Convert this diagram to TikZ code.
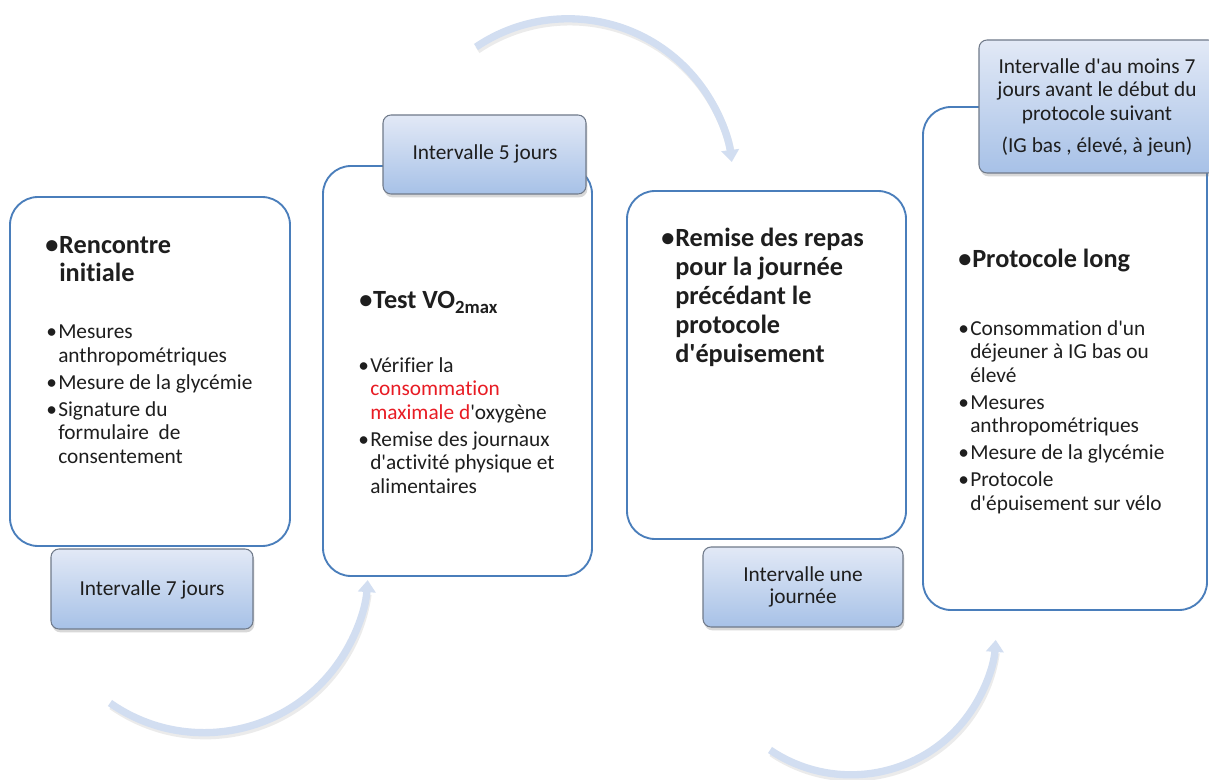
\documentclass[tikz,border=0pt]{standalone}
\usepackage{fontspec}
\newfontfamily\cfont{Carlito}[Ligatures={NoCommon}]
\usetikzlibrary{arrows.meta,shadows,fit}
\definecolor{boxblue}{RGB}{74,126,187}
\definecolor{ivtop}{RGB}{226,233,246}
\definecolor{ivbot}{RGB}{167,193,231}
\definecolor{ivedge}{RGB}{112,122,138}
\definecolor{arcblue}{RGB}{210,222,241}
\definecolor{txt}{RGB}{30,30,30}
\definecolor{hl}{RGB}{232,28,36}
\newcommand{\bl}{\makebox[9pt][l]{•}}
\newcommand{\ind}{\hspace*{9pt}}
\newcommand{\tb}{\makebox[10.5pt][l]{•}}
\newcommand{\tind}{\hspace*{10.5pt}}
\newcommand{\gp}{\\[2.6pt]}
\begin{document}
\begin{tikzpicture}[x=0.75pt,y=-0.75pt,
  stage/.style={draw=boxblue, line width=1.4pt, rounded corners=21pt, fill=white, inner sep=0pt},
  ival/.style={draw=ivedge, line width=0.8pt, rounded corners=6pt, top color=ivtop, bottom color=ivbot, inner sep=0pt,
    drop shadow={opacity=0.3, shadow xshift=1pt, shadow yshift=-2.5pt}},
  ttl/.style={anchor=base west, inner sep=0pt, font=\cfont\bfseries\fontsize{19.7}{21.5}\selectfont, text=txt, align=left},
  lst/.style={anchor=base west, inner sep=0pt, font=\cfont\fontsize{16}{17.6}\selectfont, text=txt, align=left},
  ivt/.style={anchor=base, inner sep=0pt, font=\cfont\fontsize{16}{17.6}\selectfont, text=txt, align=center},
  flow/.style={line width=5.5pt, draw=arcblue, -{Triangle[width=13pt,length=9pt]}},
  flowshadow/.style={line width=5.5pt, draw=black, opacity=0.08}
]
\clip (0,0) rectangle (1209,780);
\fill[white] (0,0) rectangle (1209,780);

% curved arrows
\coordinate (a1s) at (110,703);
\coordinate (a2s) at (476,47);
\coordinate (a3s) at (770,750);
\draw[flowshadow] ([shift={(1.5,3)}]a1s) arc[start angle=125, end angle=8, radius=164];
\draw[flowshadow] ([shift={(1.5,3)}]a2s) arc[start angle=-124, end angle=-12, radius=165];
\draw[flowshadow] ([shift={(1.5,3)}]a3s) arc[start angle=124, end angle=8, radius=145];
\draw[flow] (a1s) arc[start angle=125, end angle=4, radius=164];
\draw[flow] (a2s) arc[start angle=-124, end angle=-7.6, radius=165];
\draw[flow] (a3s) arc[start angle=124, end angle=4, radius=145];

% stage boxes
\node[stage, fit={(10,197)(290,546)}] (s1) {};
\node[stage, fit={(323,166)(592,576)}] (s2) {};
\node[stage, fit={(627,191)(906,539)}] (s3) {};
\node[stage, fit={(923,107)(1207,610)}] (s4) {};

% interval boxes
\node[ival, fit={(51,549)(253,629)}] (i1) {};
\node[ival, fit={(383,115)(586,194)}] (i2) {};
\node[ival, fit={(703,547)(903,627)}] (i3) {};
\node[ival, fit={(979,40)(1216,173)}] (i4) {};

% interval texts (base = last line baseline)
\node[ivt] (i1t) at (152,595) {Intervalle 7 jours};
\node[ivt] (i2t) at (485,160) {Intervalle 5 jours};
\node[ivt, font=\cfont\fontsize{16}{16.5}\selectfont] (i3t) at (803,603) {Intervalle une\\journée};
\node[ivt] (i4t) at (1097,153) {Intervalle d'au moins 7\\jours avant le début du\\protocole suivant\\[7pt](IG bas , élevé, à jeun)};

% box 1
\node[ttl] (t1) at (45,282) {\tb Rencontre\\\tind initiale};
\node[lst] (l1) at (46,463) {\bl Mesures\\\ind anthropométriques\gp
\bl Mesure de la glycémie\gp
\bl Signature du\\\ind formulaire\ \ de\\\ind consentement};

% box 2
\node[ttl] (t2) at (359,309) {\tb Test VO\raisebox{-3.75pt}{\fontsize{14}{14}\selectfont 2max}};
\node[lst] (l2) at (358,493) {\bl Vérifier la\\\ind\textcolor{hl}{consommation}\\\ind\textcolor{hl}{maximale d}'oxygène\gp
\bl Remise des journaux\\\ind d'activité physique et\\\ind alimentaires};

% box 3
\node[ttl, font=\cfont\bfseries\fontsize{19.7}{21.6}\selectfont] (t3) at (661,362) {\tb Remise des repas\\\tind pour la journée\\\tind précédant le\\\tind protocole\\\tind d'épuisement};

% box 4
\node[ttl] (t4) at (958,268) {\tb Protocole long};
\node[lst] (l4) at (958,510) {\bl Consommation d'un\\\ind déjeuner à IG bas ou\\\ind élevé\gp
\bl Mesures\\\ind anthropométriques\gp
\bl Mesure de la glycémie\gp
\bl Protocole\\\ind d'épuisement sur vélo};
\end{tikzpicture}
\end{document}
